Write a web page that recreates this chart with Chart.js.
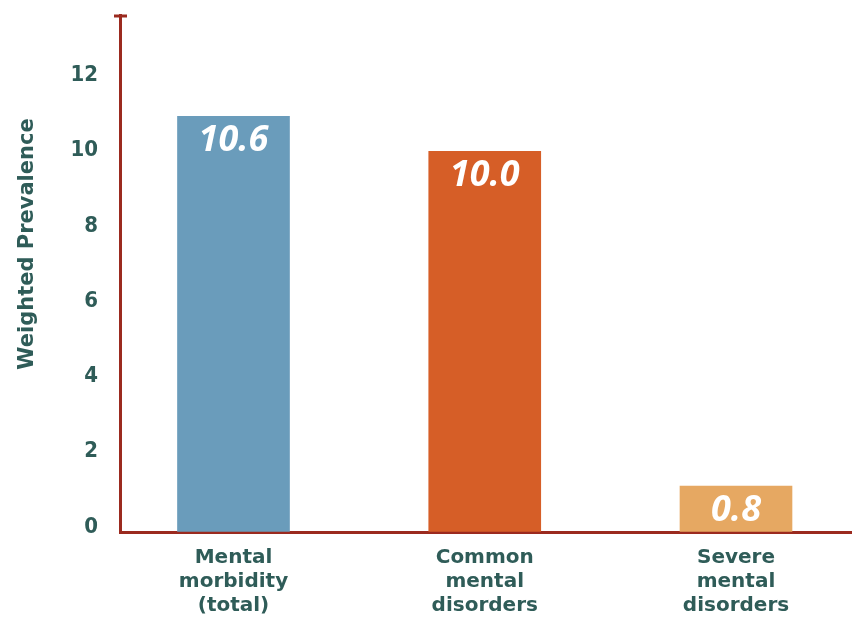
<!DOCTYPE html>
<html>
<head>
<meta charset="utf-8">
<script src="https://cdn.jsdelivr.net/npm/chart.js@4.4.0/dist/chart.umd.min.js"></script>
<style>
  html, body { margin: 0; padding: 0; background: #fff; }
  #wrap { width: 852px; height: 619px; position: relative; }
</style>
</head>
<body>
<div id="wrap"><canvas id="prevChart"></canvas></div>
<script>
// Werte
const categories = [
  ['Mental', 'morbidity', '(total)'],
  ['Common', 'mental', 'disorders'],
  ['Severe', 'mental', 'disorders']
];
const barHeights = [11.05, 10.12, 1.22];   // Balkenhöhe wie gezeichnet
const valueLabels = ['10.6', '10.0', '0.8']; // aufgedruckte Werte
const barColors = ['#6a9cbb', '#d65e27', '#e6a862'];
const yTicks = [0, 2, 4, 6, 8, 10, 12];
const yMax = 13.74;
const yTitle = 'Weighted Prevalence';

const textColor = '#2f5c58';
const axisColor = '#9b2a1f';

// kleiner Querstrich oben an der y-Achse
const capPlugin = {
  id: 'cap',
  afterDraw(chart) {
    const { ctx, chartArea } = chart;
    ctx.save();
    ctx.strokeStyle = axisColor;
    ctx.lineWidth = 3;
    ctx.beginPath();
    ctx.moveTo(chartArea.left - 6, chartArea.top + 1);
    ctx.lineTo(chartArea.left + 7, chartArea.top + 1);
    ctx.stroke();
    ctx.restore();
  }
};

// Achsentitel
const titlePlugin = {
  id: 'ytitle',
  afterDraw(chart) {
    const ctx = chart.ctx;
    ctx.save();
    ctx.translate(28, 244);
    ctx.rotate(-Math.PI / 2);
    ctx.fillStyle = textColor;
    ctx.font = 'bold 21px "DejaVu Sans"';
    ctx.textAlign = 'center';
    ctx.textBaseline = 'middle';
    ctx.fillText(yTitle, 0, 0);
    ctx.restore();
  }
};

// Werte in den Balken
const valuePlugin = {
  id: 'values',
  afterDatasetsDraw(chart) {
    const ctx = chart.ctx;
    const meta = chart.getDatasetMeta(0);
    ctx.save();
    ctx.fillStyle = '#ffffff';
    ctx.font = 'italic bold 36px "Open Sans"';
    ctx.textAlign = 'center';
    ctx.textBaseline = 'middle';
    meta.data.forEach((bar, i) => {
      ctx.fillText(valueLabels[i], bar.x, bar.y + 25);
    });
    ctx.restore();
  }
};

const ctx = document.getElementById('prevChart').getContext('2d');
new Chart(ctx, {
  type: 'bar',
  data: {
    datasets: [{
      data: barHeights.map((v, i) => ({ x: i, y: v })),
      backgroundColor: barColors,
      borderWidth: 0,
      barThickness: 112
    }]
  },
  options: {
    responsive: true,
    maintainAspectRatio: false,
    animation: false,
    layout: { padding: { top: 15, right: 0, left: 0, bottom: 0 } },
    plugins: {
      legend: { display: false },
      tooltip: { enabled: false }
    },
    scales: {
      x: {
        type: 'linear',
        offset: false,
        min: -0.4517,
        max: 2.4617,
        afterBuildTicks: axis => { axis.ticks = [0, 1, 2].map(v => ({ value: v })); },
        afterFit: scale => {
          scale.height = 87;
          scale.paddingLeft = 0;
          scale.paddingRight = 0;
        },
        grid: { drawOnChartArea: false, drawTicks: false },
        border: { color: axisColor, width: 3 },
        ticks: {
          autoSkip: false,
          maxRotation: 0,
          padding: 14,
          color: textColor,
          font: { family: '"DejaVu Sans"', weight: 'bold', size: 20, lineHeight: 1.2 },
          callback: v => categories[v]
        }
      },
      y: {
        min: 0,
        max: yMax,
        afterBuildTicks: axis => { axis.ticks = yTicks.map(v => ({ value: v })); },
        afterFit: scale => {
          scale.width = 120;
          scale.paddingTop = 0;
          scale.paddingBottom = 0;
        },
        grid: { drawOnChartArea: false, drawTicks: false },
        border: { color: axisColor, width: 3 },
        ticks: {
          padding: 22,
          labelOffset: -5,
          color: textColor,
          font: { family: '"Liberation Sans Narrow", "DejaVu Sans Condensed", sans-serif', weight: 'bold', size: 22 }
        }
      }
    }
  },
  plugins: [capPlugin, titlePlugin, valuePlugin]
});
</script>
</body>
</html>
